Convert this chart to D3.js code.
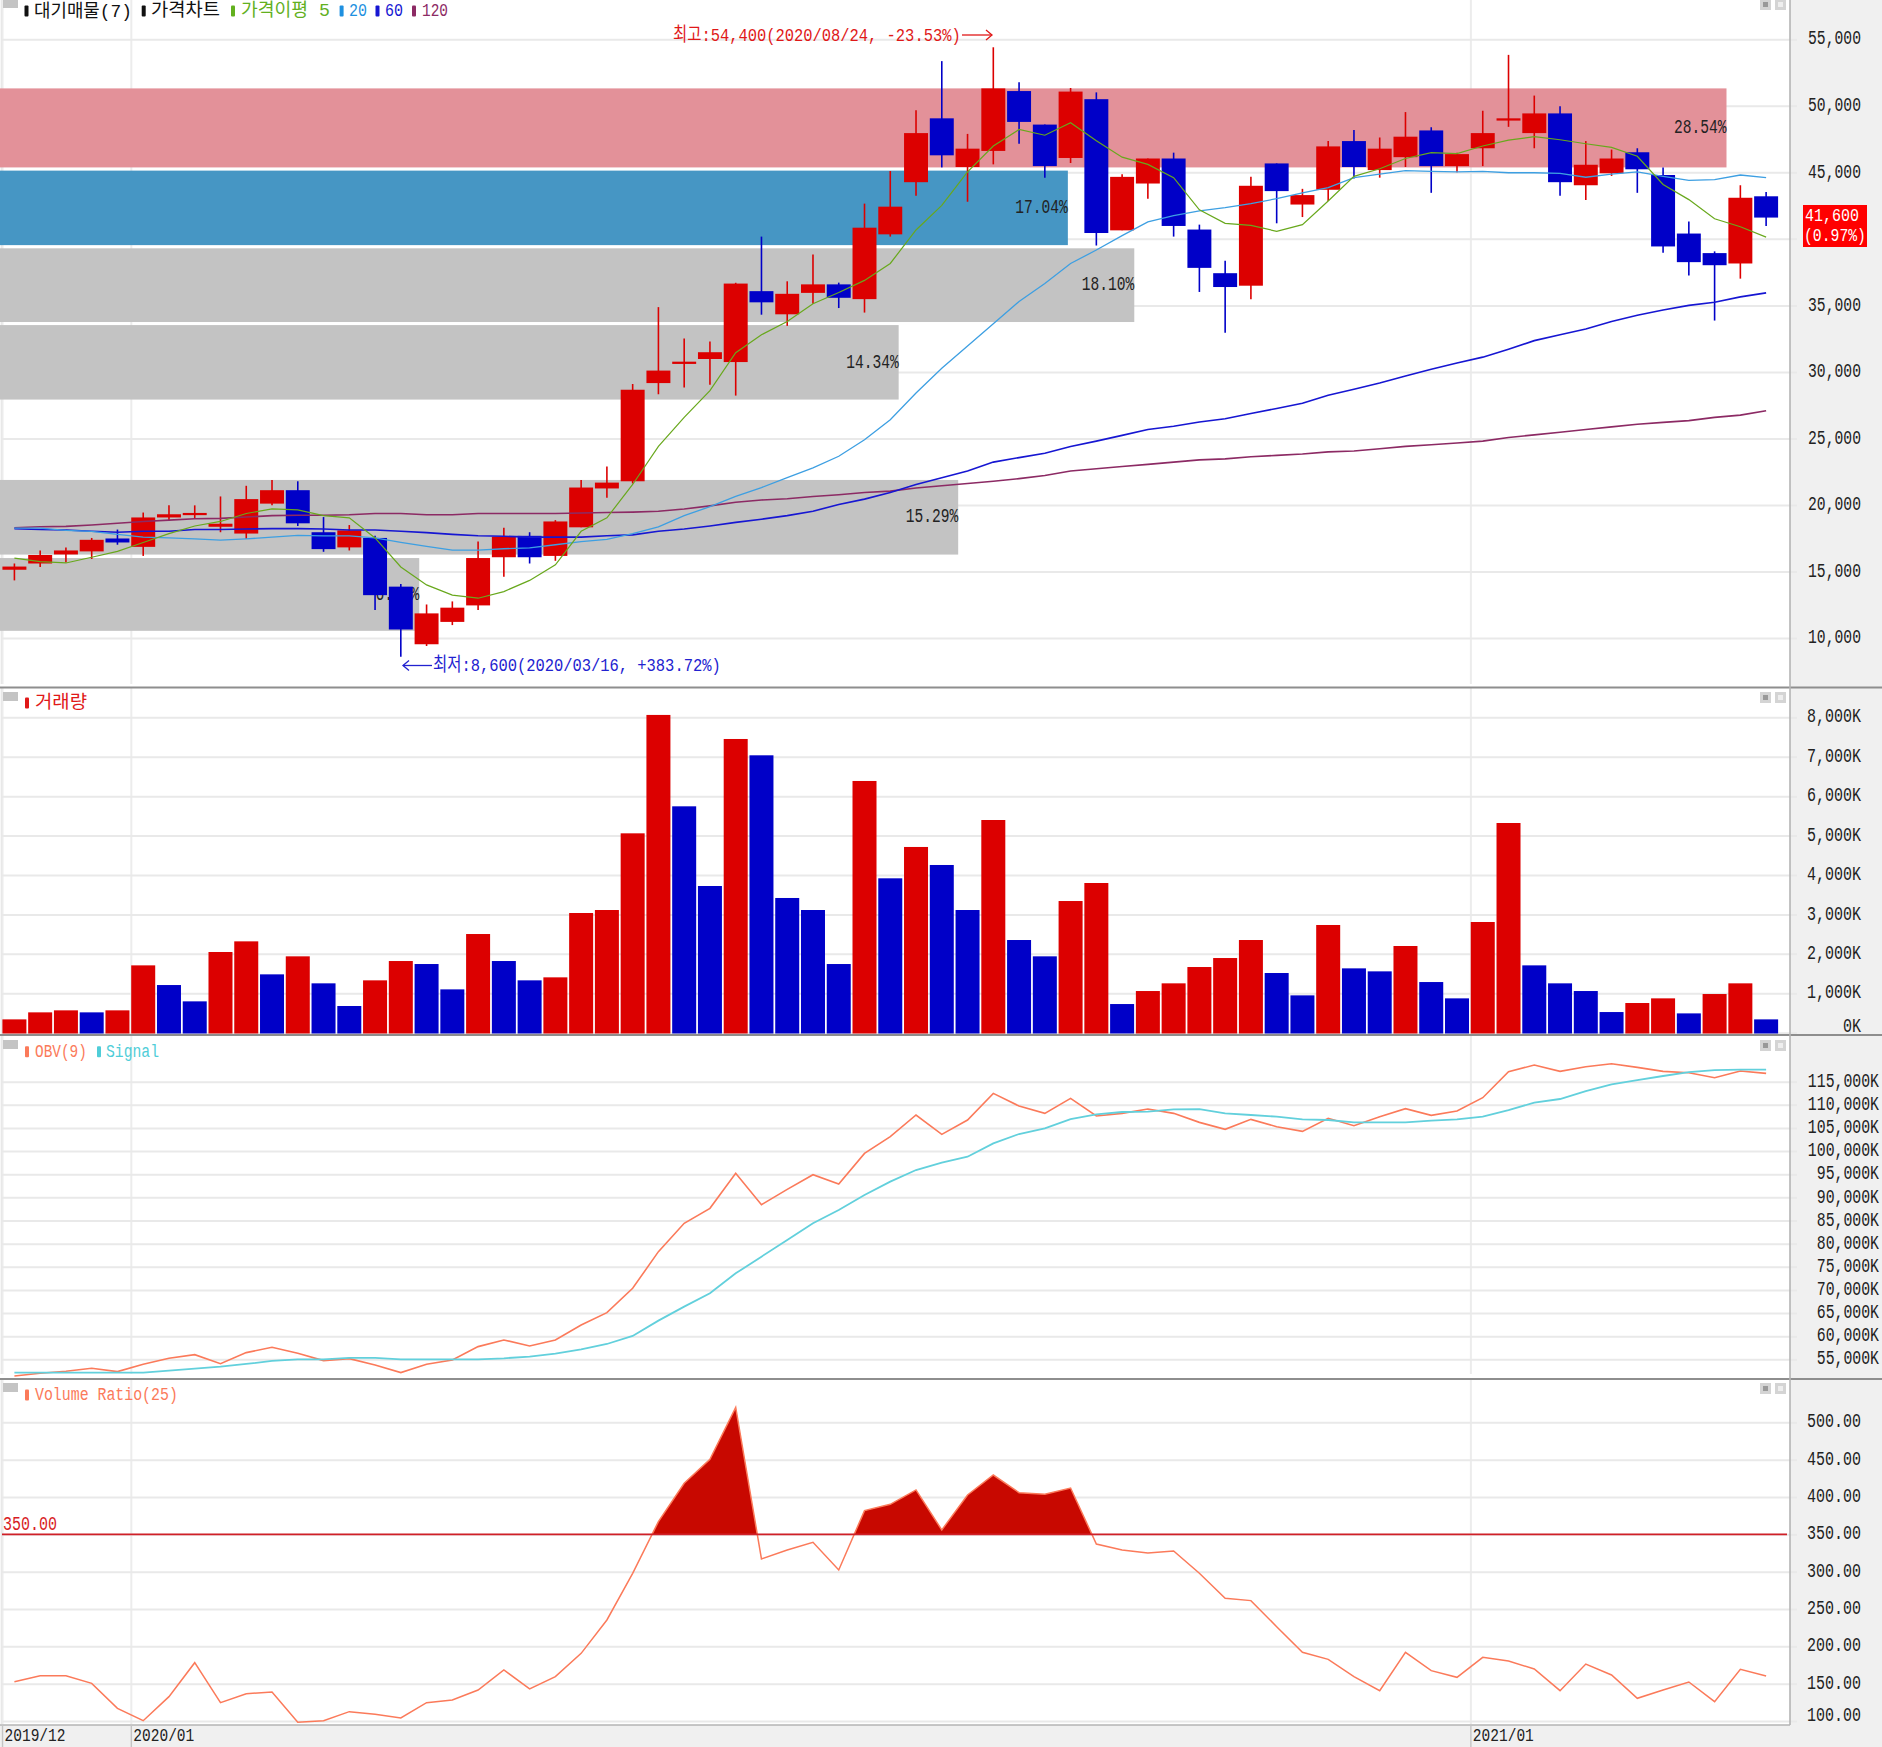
<!DOCTYPE html>
<html><head><meta charset="utf-8">
<script src="https://cdnjs.cloudflare.com/ajax/libs/d3/7.8.5/d3.min.js"></script>
<style>html,body{margin:0;padding:0;background:#fff;overflow:hidden}svg{display:block}</style>
</head><body><div id="c"></div>
<script>
const dates=["2019-12-02","2019-12-09","2019-12-16","2019-12-23","2019-12-30","2020-01-06","2020-01-13","2020-01-20","2020-01-27","2020-02-03","2020-02-10","2020-02-17","2020-02-24","2020-03-02","2020-03-09","2020-03-16","2020-03-23","2020-03-30","2020-04-06","2020-04-13","2020-04-20","2020-04-27","2020-05-04","2020-05-11","2020-05-18","2020-05-25","2020-06-01","2020-06-08","2020-06-15","2020-06-22","2020-06-29","2020-07-06","2020-07-13","2020-07-20","2020-07-27","2020-08-03","2020-08-10","2020-08-17","2020-08-24","2020-08-31","2020-09-07","2020-09-14","2020-09-21","2020-09-28","2020-10-05","2020-10-12","2020-10-19","2020-10-26","2020-11-02","2020-11-09","2020-11-16","2020-11-23","2020-11-30","2020-12-07","2020-12-14","2020-12-21","2020-12-28","2021-01-04","2021-01-11","2021-01-18","2021-01-25","2021-02-01","2021-02-08","2021-02-15","2021-02-22","2021-03-01","2021-03-08","2021-03-15","2021-03-22"];
const open=[15130,15600,16280,16510,17480,16850,19060,19300,18360,17850,20100,21110,17950,16810,17520,13860,9530,11210,12450,16070,17680,16170,18320,21240,21780,29160,30600,30970,30740,36070,34330,35940,36580,35470,40340,44260,49060,45400,46610,51110,48590,46080,50500,40640,44160,46040,40700,37420,36480,45670,42580,43690,47350,45170,46140,48150,45470,46810,48890,47950,49430,44030,44930,46510,44800,40400,38930,38150,43200];
const close=[15370,16240,16580,17380,17180,19060,19300,19400,18590,20440,21110,18620,16680,18090,13220,10640,11850,12280,16010,17620,16070,18760,21310,21680,28660,30100,30770,31480,36640,35230,35870,36580,35570,40840,42420,47950,46280,46780,51310,48790,45470,51070,40440,44660,46040,40970,37820,36380,43990,43590,43290,46950,45400,46780,47680,45470,46370,47950,49060,49430,44260,45570,46040,45230,39430,38250,38020,43090,41600];
const high=[15600,16580,16810,17520,18150,19430,19970,19970,20640,21440,21880,21780,19090,18490,17680,14060,12520,12750,17250,18290,17950,18860,21880,22890,29090,34870,32520,32280,36700,40170,36810,38830,36710,42650,45100,49660,53360,47890,54400,51780,48590,51340,51010,44860,46040,46480,41070,38360,44660,45670,43760,47350,48190,47620,49530,48390,46480,49630,53830,50770,49970,47350,46710,46810,45370,41310,39060,44030,43520];
const low=[14330,15340,15670,15940,17010,16170,18790,18960,17950,17450,19970,18420,16480,16580,12110,8600,9400,10970,12110,14600,15600,15800,18320,20540,21610,28320,28830,29030,28220,34300,33460,35130,34800,34460,40170,43250,45370,42790,45600,47150,44600,45700,39500,40640,43020,40170,36010,32950,35470,41170,41640,42850,44530,44600,45400,43460,45000,45470,48420,46810,43250,42920,44730,43460,38960,37250,33860,37010,40970];
const ma5=[16010,15740,15640,16070,16510,17180,17850,18420,18760,19360,19700,19630,19200,19030,17520,15340,13990,13220,12990,13490,14330,15500,18020,19030,21540,24400,26580,28590,31440,32790,33790,35130,35970,36880,38150,40670,42520,45030,46980,48220,47790,48730,47380,46140,45600,44600,42180,41170,41010,40570,41070,42850,44700,45270,46040,46480,46410,46980,47420,47680,47450,47150,46880,46210,44090,42950,41510,40910,40130];
const ma20=[18260,18260,18090,18020,17790,17580,17520,17450,17350,17450,17580,17720,17680,17680,17520,17180,16880,16610,16610,16710,16780,17010,17250,17420,17850,18360,19200,19870,20640,21310,22050,22790,23660,24900,26410,28420,30270,31950,33620,35300,36640,38150,39160,40240,41280,41750,42110,42350,42650,43020,43460,43860,44600,44870,45130,45070,45030,45070,44970,44970,44930,44630,44870,45030,44700,44400,44460,44800,44600];
const ma60=[18220,18150,18120,18020,17950,18020,18020,18150,18150,18190,18220,18220,18190,18120,18120,18020,17920,17790,17680,17650,17580,17580,17580,17680,17750,18020,18190,18420,18690,18930,19200,19530,20030,20440,20940,21540,22050,22550,23220,23560,23890,24400,24800,25230,25670,25910,26240,26480,26880,27250,27650,28250,28690,29160,29700,30200,30670,31110,31710,32350,32790,33220,33790,34260,34660,35000,35240,35640,35940];
const ma120=[18290,18360,18390,18490,18620,18760,18860,18960,18990,19090,19200,19230,19230,19260,19360,19360,19260,19260,19360,19360,19360,19360,19400,19430,19460,19530,19700,19930,20200,20370,20470,20640,20770,20940,21040,21280,21440,21610,21780,21980,22220,22550,22720,22890,23050,23220,23390,23460,23620,23730,23830,23990,24060,24230,24400,24530,24660,24800,25070,25270,25470,25670,25870,26070,26210,26340,26580,26750,27080];
const volume=[338,516,567,516,567,1708,1209,795,2047,2317,1480,1937,1252,677,1328,1818,1742,1099,2503,1818,1328,1404,3036,3112,5057,8060,5742,3721,7450,7036,3417,3112,1742,6385,3916,4711,4254,3112,5395,2351,1937,3340,3797,727,1057,1252,1666,1894,2351,1514,947,2732,1632,1556,2199,1285,871,2808,5319,1708,1252,1057,524,753,871,490,981,1252,338];
const obv=[51400,51980,52410,53060,52340,53920,55220,56010,54060,56440,57590,56300,54710,55140,53780,52120,53920,54860,57740,59180,57880,59180,62420,65080,70340,78270,84390,87630,95190,88420,91740,94900,92890,99510,103120,107800,103620,106720,112480,109740,108160,111400,107580,108160,109100,108160,106210,104700,106860,105280,104270,107080,105490,107440,109170,107730,108660,111540,117160,118600,117230,118240,118890,118100,117230,116950,115870,117310,116800];
const signal=[52120,52120,52120,52120,52120,52120,52550,52980,53420,53990,54640,55000,55000,55290,55290,55000,55000,55000,55000,55220,55580,56220,57160,58310,60040,63360,66380,69260,73580,77190,80790,84390,87270,90510,93390,95910,97500,98790,101680,103690,104920,106930,107940,108450,108520,109020,109090,108160,107800,107440,106860,106720,106210,106210,106210,106570,106860,107440,108880,110460,111260,112980,114420,115360,116230,117090,117520,117590,117590];
const volRatio=[152.7,160.7,160.7,150.4,117,100.4,132.6,178.1,124.6,136.6,138.8,98.2,100.4,112.5,108.9,104,124.6,128.1,141.5,168.3,142.9,159.4,190.6,235.3,297.8,367,418.3,450.4,520,317,329,339.3,302.2,381.7,390.2,409.4,355.8,402.7,429.4,405.8,403.6,412,337,329,325,327.7,297.8,264.3,261.2,226.3,192,182.6,159.4,140.6,192,167.4,158.5,185.3,180.4,169.6,140.6,176.3,161.6,130.4,141.5,152.2,125.9,169.2,160.3];
const ratioBase=350;
const zoneLow=[45370,39530,33750,27920,16270,10540];
const zoneHigh=[51310,45130,39290,33520,21880,16010];
const zonePct=[28.54,17.04,18.10,14.34,15.29,6.69];
const zoneFill=["#e39199","#4696c4","#c3c3c3","#c3c3c3","#c3c3c3","#c3c3c3"];
const priceTicks=[55000,50000,45000,40000,35000,30000,25000,20000,15000,10000];
const priceLabelTicks=[55000,50000,45000,35000,30000,25000,20000,15000,10000];
const volTicks=[8000,7000,6000,5000,4000,3000,2000,1000,0];
const obvTicks=[115000,110000,105000,100000,95000,90000,85000,80000,75000,70000,65000,60000,55000];
const ratioTicks=[500,450,400,350,300,250,200,150,100];
const monthLabels=[["2019-12-02","2019/12"],["2020-01-06","2020/01"],["2021-01-04","2021/01"]];

const RED="#dc0000",BLUE="#0000c8",W=1882,H=1747,AX=1790;
const FONT='"Liberation Mono","Noto Sans CJK KR",monospace';
const svg=d3.select("#c").append("svg").attr("width",W).attr("height",H).attr("viewBox",[0,0,W,H]);
svg.append("rect").attr("width",W).attr("height",H).attr("fill","#fff");
svg.append("rect").attr("x",AX).attr("width",W-AX).attr("height",H).attr("fill","#f0f0f0");
svg.append("rect").attr("y",1725).attr("width",W).attr("height",H-1725).attr("fill","#f0f0f0");

const x=d3.scaleBand().domain(dates).range([1.53,1779]);
const cx=d=>x(d)+x.bandwidth()/2;
const yPrice=d3.scaleLinear().domain([10000,55000]).range([638,39.3]);
const yVol=d3.scaleLinear().domain([0,8000]).range([1032.7,717.3]);
const yObv=d3.scaleLinear().domain([55000,115000]).range([1359.3,1081.7]);
const yRatio=d3.scaleLinear().domain([100,500]).range([1721,1422.3]);
const xPct=d3.scaleLinear().domain([0,27.55]).range([0,1726.5]).clamp(true);

// Text squeezed horizontally to a target width with a transform, so its box stays true.
function label(g,s,px,py,o={}){
  const t=g.append("text").text(s)
    .attr("dominant-baseline","central")
    .attr("text-anchor",o.anchor||"start")
    .attr("font-family",o.family||FONT).attr("font-size",o.size||19).attr("fill",o.fill||"#222");
  const k=o.width?o.width/t.node().getComputedTextLength():1;
  t.attr("transform",`translate(${px},${py+1.5}) scale(${k},1)`);
  return t;
}
function panel(yScale,ticks,labelTicks,fmt,top,bottom,charW,lift,right){
  const g=svg.append("g");
  g.append("line").attr("x1",1.5).attr("x2",1.5).attr("y1",top).attr("y2",bottom).attr("stroke","#e4e4e4").attr("stroke-width",1.6);
  g.selectAll("line.v").data(monthLabels).join("line")
    .attr("x1",d=>x(d[0])+1).attr("x2",d=>x(d[0])+1).attr("y1",top).attr("y2",bottom)
    .attr("stroke","#ececec").attr("stroke-width",2);
  const ax=g.append("g").attr("transform",`translate(${AX+7},0)`)
    .call(d3.axisLeft(yScale).tickValues(ticks).tickSize(AX+7-2).tickFormat(""));
  ax.select(".domain").remove();
  ax.selectAll("line").attr("stroke","#e9e9e9").attr("stroke-width",2);
  labelTicks.forEach(d=>{
    const s=fmt(d);
    label(g,s,right,yScale(d)-lift(d),{anchor:"end",width:charW*s.length,size:20});
  });
  return g;
}
const comma=d3.format(",");
// PRICE
const pG=panel(yPrice,priceTicks,priceLabelTicks,comma,0,684,8.83,d=>2,1861);
const zones=d3.range(zonePct.length);
pG.selectAll("rect.z").data(zones).join("rect")
  .attr("x",0).attr("width",i=>xPct(zonePct[i]))
  .attr("y",i=>yPrice(zoneHigh[i])).attr("height",i=>yPrice(zoneLow[i])-yPrice(zoneHigh[i]))
  .attr("fill",i=>zoneFill[i]);
zones.forEach(i=>label(pG,zonePct[i].toFixed(2)+"%",xPct(zonePct[i]),(yPrice(zoneHigh[i])+yPrice(zoneLow[i]))/2-2,{anchor:"end",width:8.75*(zonePct[i].toFixed(2).length+1),size:20}));
const idx=d3.range(dates.length);
const col=i=>close[i]>=open[i]?RED:BLUE;
pG.selectAll("line.w").data(idx).join("line")
  .attr("x1",i=>cx(dates[i])).attr("x2",i=>cx(dates[i]))
  .attr("y1",i=>yPrice(high[i])).attr("y2",i=>yPrice(low[i]))
  .attr("stroke",col).attr("stroke-width",1.6);
const bodyW=x.bandwidth()*0.93;
pG.selectAll("rect.b").data(idx).join("rect")
  .attr("x",i=>cx(dates[i])-bodyW/2).attr("width",bodyW)
  .attr("y",i=>yPrice(Math.max(open[i],close[i])))
  .attr("height",i=>Math.max(2.2,Math.abs(yPrice(open[i])-yPrice(close[i]))))
  .attr("fill",col);
const lineP=d3.line().x(i=>cx(dates[i]));
[[ma120,"#8c2a64",1.6],[ma60,"#1616d2",1.6],[ma20,"#3d9fe2",1.3],[ma5,"#68a81c",1.2]].forEach(([s,c,w])=>{
  pG.append("path").datum(idx).attr("fill","none").attr("stroke",c).attr("stroke-width",w)
    .attr("d",lineP.y(i=>yPrice(s[i])));
});
// annotations
label(pG,"최고:54,400(2020/08/24, -23.53%)",673,34.4,{fill:"#e01818",width:288});
label(pG,"최저:8,600(2020/03/16, +383.72%)",433,665,{fill:"#2222d0",width:288});
const arrow=(x1,x2,y,c,dir)=>{
  pG.append("line").attr("x1",x1).attr("x2",x2).attr("y1",y).attr("y2",y).attr("stroke",c).attr("stroke-width",1.3);
  pG.append("path").attr("d",`M${x2-dir*6},${y-5}L${x2},${y}L${x2-dir*6},${y+5}`).attr("fill","none").attr("stroke",c).attr("stroke-width",1.3);
};
arrow(962,992,35,"#e01818",1);
arrow(432,403,665.5,"#2222d0",-1);
// current price box
pG.append("rect").attr("x",1803).attr("y",205).attr("width",64).attr("height",42).attr("fill","#ff0000");
label(pG,"41,600",1805,215,{fill:"#fff",width:54,size:17.5});
label(pG,"(0.97%)",1804,235,{fill:"#fff",width:62,size:17.5});
// legends
const mark=(g,mx,my,c)=>g.append("rect").attr("x",mx-2).attr("y",my-4.5).attr("width",4).attr("height",11).attr("rx",1).attr("fill",c);
const legend=(g,items,ly)=>items.forEach(([mx,tx,tw,s,c])=>{mark(g,mx,ly,c);label(g,s,tx,ly,{fill:c,width:tw,size:18});});
legend(pG,[[26.5,34,98,"대기매물(7)","#111"],[143.7,151,69,"가격차트","#111"],[233,241,89,"가격이평 5","#62b01e"],[341.6,349,18,"20","#1e90e0"],[377.5,385,18,"60","#1616d2"],[414,422,26,"120","#8c2a64"]],10);
const sq=(g,sy)=>g.append("rect").attr("x",3).attr("y",sy).attr("width",15).attr("height",sy>0?9:8).attr("fill","#c4c4c4");
sq(pG,0);
const winBtns=(g,by)=>{[1760,1775].forEach((bx,k)=>{
  g.append("rect").attr("x",bx).attr("y",by).attr("width",11).attr("height",11).attr("fill","#d4d4d4");
  g.append("rect").attr("x",bx+3).attr("y",by+3).attr("width",5).attr("height",5).attr("fill",k?"#eee":"#999");
});};
winBtns(pG,-1);

// VOLUME
const vG=panel(yVol,volTicks,volTicks,d=>comma(d)+"K",688,1035,9,d=>d===0?8:2,1861);
vG.selectAll("rect.v").data(idx).join("rect")
  .attr("x",i=>cx(dates[i])-12).attr("width",24)
  .attr("y",i=>yVol(volume[i])).attr("height",i=>yVol(0)-yVol(volume[i])+0.8)
  .attr("fill",i=>(i===0||volume[i]>=volume[i-1])?RED:BLUE);
legend(vG,[[27,35,52,"거래량","#e01818"]],702);
sq(vG,692);winBtns(vG,692);

// OBV
const oG=panel(yObv,obvTicks,obvTicks,d=>comma(d)+"K",1036,1374,8.9,d=>2,1879);
const lineO=d3.line().x(i=>cx(dates[i]));
oG.append("path").datum(idx).attr("fill","none").attr("stroke","#fb7a5a").attr("stroke-width",1.6).attr("d",lineO.y(i=>yObv(obv[i])));
oG.append("path").datum(idx).attr("fill","none").attr("stroke","#62d0dc").attr("stroke-width",1.8).attr("d",lineO.y(i=>yObv(signal[i])));
legend(oG,[[27,35,52,"OBV(9)","#fb7a5a"],[99,106,53,"Signal","#4fcdd8"]],1050.7);
sq(oG,1040);winBtns(oG,1040);

// VOLUME RATIO
const rG=panel(yRatio,ratioTicks,ratioTicks,d=>d.toFixed(2),1380,1724,9,d=>d===100?7:2,1861);
const clipId="above";
svg.append("defs").append("clipPath").attr("id",clipId).append("rect")
  .attr("x",0).attr("y",1380).attr("width",AX).attr("height",yRatio(ratioBase)-1380);
rG.append("path").datum(idx).attr("clip-path",`url(#${clipId})`).attr("fill","#c80800")
  .attr("d",d3.area().x(i=>cx(dates[i])).y0(yRatio(ratioBase)).y1(i=>yRatio(volRatio[i])));
rG.append("path").datum(idx).attr("fill","none").attr("stroke","#fb7a5a").attr("stroke-width",1.5)
  .attr("d",d3.line().x(i=>cx(dates[i])).y(i=>yRatio(volRatio[i])));
rG.append("line").attr("x1",2).attr("x2",1787).attr("y1",yRatio(ratioBase)).attr("y2",yRatio(ratioBase)).attr("stroke","#d02028").attr("stroke-width",1.8);
label(rG,"350.00",3,1522.7,{fill:"#d81c24",width:54,size:20});
legend(rG,[[27,35,143,"Volume Ratio(25)","#fb7a5a"]],1394);
sq(rG,1383);winBtns(rG,1383);

// separators and frame
[[0,W,687.5],[0,W,1035],[0,W,1379]].forEach(([a,b,yy])=>svg.append("line").attr("x1",a).attr("x2",b).attr("y1",yy).attr("y2",yy).attr("stroke","#8e8e8e").attr("stroke-width",1.8));
svg.append("line").attr("x1",AX).attr("x2",AX).attr("y1",0).attr("y2",1725).attr("stroke","#b4b4b4").attr("stroke-width",1.6);
svg.append("line").attr("x1",0).attr("x2",AX).attr("y1",1725).attr("y2",1725).attr("stroke","#b4b4b4").attr("stroke-width",1.6);
monthLabels.forEach(([d,s])=>{
  const px=x(d)+1;
  svg.append("line").attr("x1",px).attr("x2",px).attr("y1",1725).attr("y2",1747).attr("stroke","#c4c4c4").attr("stroke-width",1.4);
  label(svg,s,px+2,1734.5,{width:61,size:18});
});
</script></body></html>
